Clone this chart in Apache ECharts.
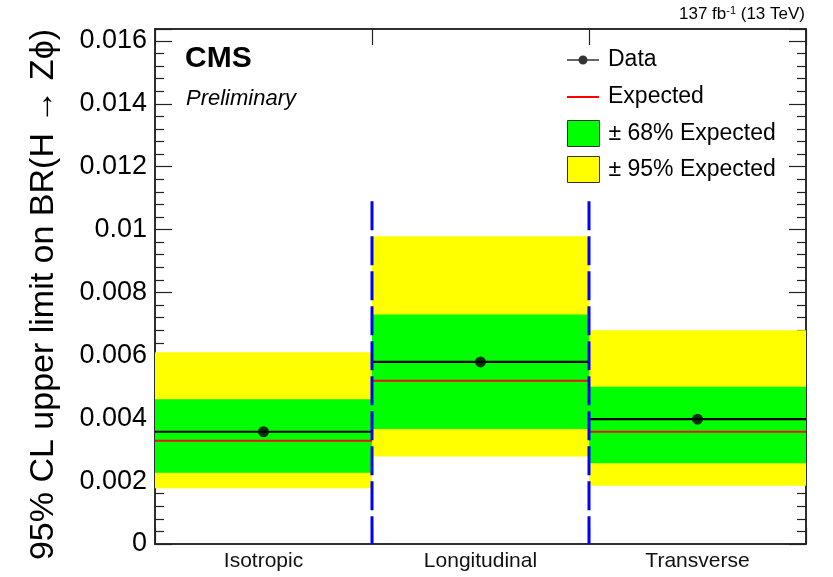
<!DOCTYPE html>
<html>
<head>
<meta charset="utf-8">
<script src="https://cdn.jsdelivr.net/npm/echarts@6/dist/echarts.min.js"></script>
<style>
html,body{margin:0;padding:0;background:#fff;}
#chart{width:833px;height:577px;}
</style>
</head>
<body>
<div id="chart"></div>
<script>
// ---- data ----
var categories = ['Isotropic', 'Longitudinal', 'Transverse'];
var observed   = [0.00357, 0.00579, 0.00397];
var expected   = [0.00328, 0.00519, 0.00357];
var band68Low  = [0.00227, 0.00366, 0.00257];
var band68High = [0.00460, 0.00730, 0.00500];
var band95Low  = [0.00177, 0.00278, 0.00185];
var band95High = [0.00610, 0.00979, 0.00680];
var dividerIdx = [1, 2];
var dividerTop = 0.0109;
var yTicks = [0, 0.002, 0.004, 0.006, 0.008, 0.01, 0.012, 0.014, 0.016];

var FONT = 'Liberation Sans, Arial, Helvetica, sans-serif';
var YMAX = 0.01638;

function bandRender(color) {
  return function (params, api) {
    var i = api.value(0);
    var lo = api.coord([i, api.value(1)]);
    var hi = api.coord([i, api.value(2)]);
    var w = api.size([1, 0])[0];
    return {
      type: 'rect',
      shape: { x: lo[0] - w / 2, y: hi[1], width: w, height: lo[1] - hi[1] },
      style: { fill: color }
    };
  };
}
function hlineRender(color, width) {
  return function (params, api) {
    var i = api.value(0);
    var p = api.coord([i, api.value(1)]);
    var w = api.size([1, 0])[0];
    return {
      type: 'line',
      shape: { x1: p[0] - w / 2, y1: p[1], x2: p[0] + w / 2, y2: p[1] },
      style: { stroke: color, lineWidth: width }
    };
  };
}

var chart = echarts.init(document.getElementById('chart'), null, { renderer: 'canvas' });

var yAxisCommon = {
  type: 'value',
  min: 0,
  max: YMAX,
  interval: 0.002,
  splitLine: { show: false },
  axisLine: { show: true, lineStyle: { color: '#222', width: 1.5 } },
  axisTick: { show: true, inside: true, length: 17, lineStyle: { color: '#222', width: 1.2 } },
  minorTick: { show: true, splitNumber: 5, length: 9, lineStyle: { color: '#222', width: 1.2 } }
};

var legendText = { fontSize: 23, color: '#000', fontFamily: FONT, lineHeight: 26, padding: [0, 0, 0, 4] };

var option = {
  animation: false,
  backgroundColor: '#fff',
  grid: {
    left: 155, right: 27, top: 29, bottom: 33,
    show: true, borderColor: '#222', borderWidth: 1.5, backgroundColor: 'transparent'
  },
  xAxis: [
    {
      type: 'category',
      data: categories,
      position: 'bottom',
      boundaryGap: true,
      axisLine: { show: true, onZero: false, lineStyle: { color: '#222', width: 1.5 } },
      axisTick: { show: true, inside: true, length: 16, interval: 0, lineStyle: { color: '#222', width: 1.2 } },
      axisLabel: { fontSize: 21, color: '#111', fontFamily: FONT, margin: 7, interval: 0 },
      splitLine: { show: false }
    },
    {
      type: 'category',
      data: categories,
      position: 'top',
      boundaryGap: true,
      axisLine: { show: true, onZero: false, lineStyle: { color: '#222', width: 1.5 } },
      axisTick: { show: true, inside: true, length: 16, interval: 0, lineStyle: { color: '#222', width: 1.2 } },
      axisLabel: { show: false },
      splitLine: { show: false }
    }
  ],
  yAxis: [
    Object.assign({}, yAxisCommon, {
      position: 'left',
      axisLabel: {
        fontSize: 27, color: '#000', fontFamily: FONT, margin: 8,
        formatter: function (v) {
          for (var k = 0; k < yTicks.length; k++) {
            if (Math.abs(v - yTicks[k]) < 1e-9) return String(yTicks[k]);
          }
          return '';
        }
      }
    }),
    Object.assign({}, yAxisCommon, {
      position: 'right',
      axisLabel: { show: false }
    })
  ],
  legend: [
    {
      data: [{ name: 'Data', icon: 'path://M0,5.3H32V6.7H0Z M20.5,6A4.5,4.5 0 1 1 11.5,6A4.5,4.5 0 1 1 20.5,6Z',
               itemStyle: { color: '#000' } }],
      left: 567, top: 47, padding: 0, itemWidth: 32, itemHeight: 12, selectedMode: false,
      textStyle: legendText
    },
    {
      data: [{ name: 'Expected', icon: 'rect', itemStyle: { color: '#ff0000', borderWidth: 0 } }],
      left: 567, top: 84, padding: 0, itemWidth: 32, itemHeight: 2, selectedMode: false,
      textStyle: legendText
    },
    {
      data: [{ name: '± 68% Expected', icon: 'rect', itemStyle: { color: '#00ff00', borderColor: '#333', borderWidth: 1 } }],
      left: 567, top: 120, padding: 0, itemWidth: 32, itemHeight: 26, selectedMode: false,
      textStyle: legendText
    },
    {
      data: [{ name: '± 95% Expected', icon: 'rect', itemStyle: { color: '#ffff00', borderColor: '#333', borderWidth: 1 } }],
      left: 567, top: 156, padding: 0, itemWidth: 32, itemHeight: 26, selectedMode: false,
      textStyle: legendText
    }
  ],
  series: [
    {
      name: '± 95% Expected', type: 'custom', xAxisIndex: 0, yAxisIndex: 0, z: 1,
      itemStyle: { color: '#ffff00' },
      renderItem: bandRender('#ffff00'),
      data: categories.map(function (c, i) { return [i, band95Low[i], band95High[i]]; })
    },
    {
      name: '± 68% Expected', type: 'custom', xAxisIndex: 0, yAxisIndex: 0, z: 2,
      itemStyle: { color: '#00ff00' },
      renderItem: bandRender('#00ff00'),
      data: categories.map(function (c, i) { return [i, band68Low[i], band68High[i]]; })
    },
    {
      name: 'Expected', type: 'custom', xAxisIndex: 0, yAxisIndex: 0, z: 3,
      itemStyle: { color: '#ff0000' },
      renderItem: hlineRender('#ee1111', 2),
      data: categories.map(function (c, i) { return [i, expected[i]]; })
    },
    {
      name: 'DataLine', type: 'custom', xAxisIndex: 0, yAxisIndex: 0, z: 4,
      renderItem: hlineRender('#000', 2.2),
      data: categories.map(function (c, i) { return [i, observed[i]]; })
    },
    {
      name: 'Dividers', type: 'custom', xAxisIndex: 0, yAxisIndex: 0, z: 5,
      renderItem: function (params, api) {
        var i = api.value(0);
        var top = api.coord([i, api.value(1)]);
        var bot = api.coord([i, 0]);
        var w = api.size([1, 0])[0];
        var x = top[0] - w / 2;
        return {
          type: 'line',
          shape: { x1: x, y1: top[1], x2: x, y2: bot[1] },
          style: { stroke: '#0000ff', lineWidth: 3, lineDash: [29, 6] }
        };
      },
      data: dividerIdx.map(function (i) { return [i, dividerTop]; })
    },
    {
      name: 'Data', type: 'scatter', xAxisIndex: 0, yAxisIndex: 0, z: 6,
      symbol: 'circle', symbolSize: 11,
      itemStyle: { color: '#000' },
      data: categories.map(function (c, i) { return [i, observed[i]]; })
    }
  ],
  graphic: [
    {
      type: 'text', x: 44, y: 29, rotation: Math.PI / 2,
      style: {
        text: '95% CL upper limit on BR(H \u2192 Z\u03D5)',
        font: '34px ' + FONT, fill: '#000',
        textAlign: 'right', textVerticalAlign: 'middle'
      }
    },
    {
      type: 'text', x: 185, y: 44,
      style: { text: 'CMS', font: 'bold 30px ' + FONT, fill: '#000', textAlign: 'left', textVerticalAlign: 'top' }
    },
    {
      type: 'text', x: 186, y: 88,
      style: { text: 'Preliminary', font: 'italic 22px ' + FONT, fill: '#000', textAlign: 'left', textVerticalAlign: 'top' }
    },
    {
      type: 'text', right: 28, top: 5,
      style: {
        text: '{a|137 fb}{s|-1}{a| (13 TeV)}',
        rich: {
          a: { fontSize: 17, fontFamily: FONT, fill: '#000', color: '#000' },
          s: { fontSize: 11, fontFamily: FONT, fill: '#000', color: '#000', verticalAlign: 'top', padding: [0, 0, 7, 0] }
        },
        textAlign: 'left'
      }
    }
  ]
};

chart.setOption(option);
</script>
</body>
</html>
